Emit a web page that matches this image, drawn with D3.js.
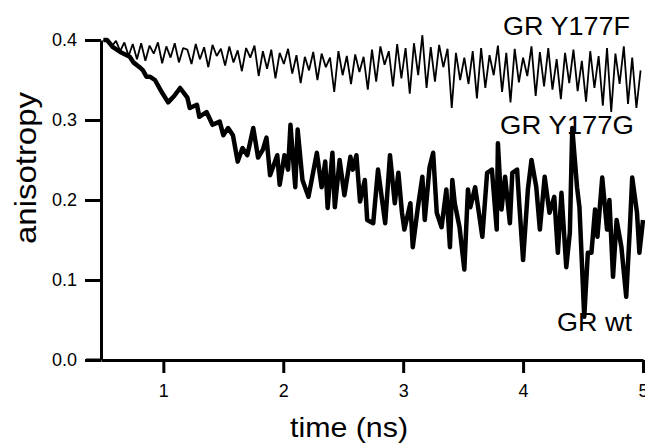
<!DOCTYPE html>
<html>
<head>
<meta charset="utf-8">
<script src="https://cdn.jsdelivr.net/npm/d3@7"></script>
<style>
  html, body { margin: 0; padding: 0; background: #fff; }
  svg { display: block; }
  .lbl { font-family: "Liberation Sans", Arial, Helvetica, sans-serif; fill: #000; }
</style>
</head>
<body>
<svg id="chart" width="645" height="443"></svg>
<script>
// ---- Data ----
const xTicks = [1, 2, 3, 4, 5];
const yTicks = [0.0, 0.1, 0.2, 0.3, 0.4];
const seriesLabels = ["GR Y177F", "GR Y177G", "GR wt"];

// GR Y177F (thin trace), sampled every 0.035 ns from 0.5 ns
const y177fStart = 0.5;
const y177fStep = 0.035;
const y177fValues = [
  0.400, 0.398, 0.392, 0.399, 0.386, 0.397, 0.380, 0.395, 0.376, 0.396,
  0.374, 0.393, 0.383, 0.397, 0.371, 0.392, 0.378, 0.396, 0.372, 0.390,
  0.388, 0.370, 0.395, 0.376, 0.391, 0.366, 0.394, 0.380, 0.389, 0.368,
  0.392, 0.372, 0.387, 0.361, 0.390, 0.378, 0.393, 0.355, 0.386, 0.364,
  0.388, 0.352, 0.384, 0.370, 0.389, 0.358, 0.381, 0.346, 0.379, 0.362,
  0.385, 0.350, 0.383, 0.366, 0.378, 0.335, 0.386, 0.356, 0.380, 0.345,
  0.382, 0.360, 0.379, 0.338, 0.388, 0.348, 0.392, 0.369, 0.386, 0.342,
  0.395, 0.352, 0.390, 0.333, 0.396, 0.356, 0.406, 0.340, 0.391, 0.348,
  0.394, 0.366, 0.389, 0.315, 0.384, 0.350, 0.378, 0.345, 0.386, 0.327,
  0.390, 0.340, 0.381, 0.356, 0.393, 0.335, 0.384, 0.322, 0.389, 0.347,
  0.378, 0.355, 0.392, 0.330, 0.385, 0.342, 0.390, 0.338, 0.376, 0.326,
  0.384, 0.346, 0.388, 0.336, 0.374, 0.323, 0.386, 0.340, 0.380, 0.318,
  0.390, 0.310, 0.383, 0.345, 0.392, 0.320, 0.378, 0.315, 0.362
];

// GR wt / GR Y177G (thick trace)
const wtTimes = [
  0.50, 0.53, 0.58, 0.64, 0.72, 0.75, 0.81, 0.83, 0.86, 0.89, 0.93, 0.99,
  1.04, 1.09, 1.14, 1.20, 1.22, 1.28, 1.30, 1.36, 1.41, 1.47, 1.50, 1.54,
  1.58, 1.62, 1.66, 1.70, 1.75, 1.79, 1.83, 1.86, 1.89, 1.95, 1.97, 2.01,
  2.04, 2.06, 2.10, 2.12, 2.16, 2.21, 2.28, 2.32, 2.35, 2.37, 2.41, 2.43,
  2.47, 2.51, 2.56, 2.58, 2.61, 2.64, 2.68, 2.70, 2.75, 2.79, 2.85, 2.89,
  2.93, 2.96, 2.99, 3.01, 3.06, 3.08, 3.12, 3.16, 3.18, 3.22, 3.25, 3.28,
  3.32, 3.36, 3.39, 3.41, 3.43, 3.47, 3.51, 3.54, 3.56, 3.60, 3.64, 3.66,
  3.70, 3.74, 3.78, 3.79, 3.82, 3.85, 3.89, 3.91, 3.95, 3.97, 4.00, 4.04,
  4.07, 4.11, 4.14, 4.18, 4.22, 4.26, 4.29, 4.32, 4.36, 4.39, 4.41, 4.45,
  4.47, 4.51, 4.54, 4.57, 4.60, 4.62, 4.66, 4.70, 4.72, 4.75, 4.78, 4.82,
  4.86, 4.89, 4.91, 4.95, 4.97, 5.00
];
const wtValues = [
  0.400, 0.400, 0.391, 0.385, 0.379, 0.372, 0.365, 0.362, 0.354, 0.354, 0.350, 0.334,
  0.322, 0.330, 0.340, 0.328, 0.315, 0.319, 0.304, 0.310, 0.294, 0.298, 0.281, 0.290,
  0.281, 0.248, 0.265, 0.256, 0.290, 0.253, 0.263, 0.278, 0.231, 0.256, 0.219, 0.256,
  0.238, 0.294, 0.216, 0.288, 0.225, 0.204, 0.259, 0.216, 0.248, 0.190, 0.259, 0.191,
  0.250, 0.206, 0.254, 0.238, 0.256, 0.198, 0.225, 0.175, 0.171, 0.238, 0.171, 0.256,
  0.196, 0.234, 0.184, 0.163, 0.196, 0.141, 0.188, 0.229, 0.175, 0.241, 0.259, 0.184,
  0.166, 0.213, 0.141, 0.225, 0.196, 0.166, 0.113, 0.213, 0.191, 0.216, 0.175, 0.154,
  0.234, 0.238, 0.163, 0.271, 0.188, 0.229, 0.171, 0.234, 0.238, 0.191, 0.125, 0.213,
  0.250, 0.216, 0.163, 0.229, 0.184, 0.204, 0.134, 0.209, 0.116, 0.159, 0.290, 0.216,
  0.191, 0.054, 0.134, 0.134, 0.188, 0.154, 0.228, 0.163, 0.200, 0.104, 0.175, 0.141,
  0.079, 0.163, 0.228, 0.184, 0.134, 0.175
];

// ---- Chart ----
const FONT = '"Liberation Sans", Arial, Helvetica, sans-serif';
const svg = d3.select("#chart");

const x = d3.scaleLinear().domain([0.48, 5]).range([101, 643]);
const y = d3.scaleLinear().domain([0, 0.4]).range([360, 40]);

const y177f = y177fValues.map((v, i) => ({ t: y177fStart + i * y177fStep, v }));
const wt = wtValues.map((v, i) => ({ t: wtTimes[i], v }));

const line = d3.line().x(d => x(d.t)).y(d => y(d.v));

svg.append("path")
  .datum(y177f)
  .attr("d", line)
  .attr("fill", "none")
  .attr("stroke", "#000")
  .attr("stroke-width", 1.8)
  .attr("stroke-linejoin", "bevel");

svg.append("path")
  .datum(wt)
  .attr("d", line)
  .attr("fill", "none")
  .attr("stroke", "#000")
  .attr("stroke-width", 4.5)
  .attr("stroke-linejoin", "round");

// Axes
const yAxis = d3.axisLeft(y)
  .tickValues(yTicks)
  .tickFormat(d3.format(".1f"))
  .tickSize(16)
  .tickSizeOuter(0)
  .tickPadding(8);

const gy = svg.append("g")
  .attr("transform", "translate(101,0)")
  .call(yAxis);

const xAxis = d3.axisBottom(x)
  .tickValues(xTicks)
  .tickFormat(d3.format("d"))
  .tickSize(13)
  .tickSizeOuter(0)
  .tickPadding(11);

const gx = svg.append("g")
  .attr("transform", "translate(0,360)")
  .call(xAxis);

[gx, gy].forEach(g => {
  g.attr("font-size", 18).attr("font-family", FONT);
  g.select(".domain").attr("stroke", "#000").attr("stroke-width", 3);
  g.selectAll(".tick line").attr("stroke", "#000").attr("stroke-width", 3);
  g.selectAll(".tick text").attr("fill", "#000").attr("font-size", 18);
});

// extend the x axis line slightly left to meet the 0.0 tick
svg.append("line")
  .attr("x1", 86).attr("x2", 101)
  .attr("y1", 360).attr("y2", 360)
  .attr("stroke", "#000").attr("stroke-width", 3);

// Axis titles
svg.append("text")
  .attr("class", "lbl")
  .attr("x", 349)
  .attr("y", 437)
  .attr("text-anchor", "middle")
  .attr("font-size", 28)
  .attr("textLength", 118)
  .attr("lengthAdjust", "spacingAndGlyphs")
  .text("time (ns)");

svg.append("text")
  .attr("class", "lbl")
  .attr("transform", "translate(36,168) rotate(-90)")
  .attr("text-anchor", "middle")
  .attr("font-size", 29)
  .attr("textLength", 152)
  .attr("lengthAdjust", "spacingAndGlyphs")
  .text("anisotropy");

// Series labels
const labelPos = [
  { x: 503, y: 35, w: 127 },
  { x: 500, y: 134, w: 134 },
  { x: 557, y: 331, w: 75 }
];
seriesLabels.forEach((s, i) => {
  svg.append("text")
    .attr("class", "lbl")
    .attr("x", labelPos[i].x)
    .attr("y", labelPos[i].y)
    .attr("font-size", 25)
    .attr("textLength", labelPos[i].w)
    .attr("lengthAdjust", "spacingAndGlyphs")
    .text(s);
});
</script>
</body>
</html>
